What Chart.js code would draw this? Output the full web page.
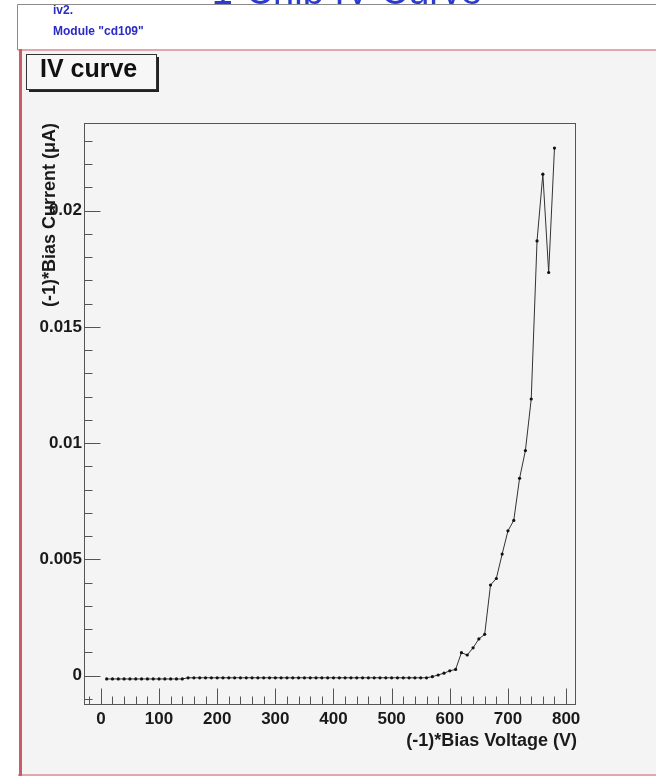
<!DOCTYPE html>
<html>
<head>
<meta charset="utf-8">
<script src="https://cdn.jsdelivr.net/npm/chart.js@4.4.1/dist/chart.umd.min.js"></script>
<style>
  html, body { margin: 0; padding: 0; background: #ffffff; overflow: hidden; }
  canvas { display: block; }
</style>
</head>
<body>
<canvas id="iv" width="656" height="776"></canvas>
<script>
// Texts
const pageTitle = '1-Chip IV Curve';
const infoLines = ['iv2.', 'Module "cd109"'];
const plotTitle = 'IV curve';
const xAxisTitle = '(-1)*Bias Voltage (V)';
const yAxisTitle = '(-1)*Bias Current (\u03bcA)';

// Measured bias scan: (-1)*voltage in V
const biasVoltage = [
  10, 20, 30, 40, 50, 60, 70, 80, 90, 100,
  110, 120, 130, 140, 150, 160, 170, 180, 190, 200,
  210, 220, 230, 240, 250, 260, 270, 280, 290, 300,
  310, 320, 330, 340, 350, 360, 370, 380, 390, 400,
  410, 420, 430, 440, 450, 460, 470, 480, 490, 500,
  510, 520, 530, 540, 550, 560, 570, 580, 590, 600,
  610, 620, 630, 640, 650, 660, 670, 680, 690, 700,
  710, 720, 730, 740, 750, 760, 770, 780
];

// (-1)*current in uA at each voltage step
const biasCurrent = [
  -0.00014, -0.00014, -0.00014, -0.00014, -0.00014, -0.00014, -0.00014, -0.00014, -0.00014, -0.00014,
  -0.00014, -0.00014, -0.00014, -0.00014, -0.00009, -0.00009, -0.00009, -0.00009, -0.00009, -0.00009,
  -0.00009, -0.00009, -0.00009, -0.00009, -0.00009, -0.00009, -0.00009, -0.00009, -0.00009, -0.00009,
  -0.00009, -0.00009, -0.00009, -0.00009, -0.00009, -0.00009, -0.00009, -0.00009, -0.00009, -0.00009,
  -0.00009, -0.00009, -0.00009, -0.00009, -0.00009, -0.00009, -0.00009, -0.00009, -0.00009, -0.00009,
  -0.00009, -0.00009, -0.00009, -0.00009, -0.00009, -0.00009, -0.00004, 0.00003, 0.00011, 0.00021,
  0.00027, 0.00099, 0.00089, 0.0012, 0.00158, 0.00178, 0.0039, 0.00418, 0.00523, 0.00623,
  0.00668, 0.00849, 0.00968, 0.0119, 0.0187, 0.02157, 0.01734, 0.02269
];

// Axis ranges and major ticks
const xRange = [-29, 817];
const yRange = [-0.00126, 0.02377];
const xTicks = [0, 100, 200, 300, 400, 500, 600, 700, 800];
const xTickLabels = ['0', '100', '200', '300', '400', '500', '600', '700', '800'];
const yTicks = [0, 0.005, 0.01, 0.015, 0.02];
const yTickLabels = ['0', '0.005', '0.01', '0.015', '0.02'];

const FONT = '"Liberation Sans", Arial, Helvetica, sans-serif';

// Canvas decorations: heading, info pad, plot pad and title box
const padBackground = {
  id: 'padBackground',
  beforeDraw(chart) {
    const ctx = chart.ctx;
    const W = chart.width, H = chart.height;
    ctx.save();
    ctx.fillStyle = '#ffffff';
    ctx.fillRect(0, 0, W, H);

    // page heading (mostly covered by the info pad)
    ctx.fillStyle = '#2b3bd0';
    ctx.font = '38px ' + FONT;
    ctx.textAlign = 'center';
    ctx.textBaseline = 'alphabetic';
    ctx.fillText(pageTitle, 347, 4);

    // info pad
    ctx.fillStyle = '#ffffff';
    ctx.fillRect(17, 5, W - 17, 45);
    ctx.strokeStyle = '#8a8a8a';
    ctx.lineWidth = 1;
    ctx.beginPath();
    ctx.moveTo(17.5, 50);
    ctx.lineTo(17.5, 4.5);
    ctx.lineTo(W, 4.5);
    ctx.stroke();

    ctx.fillStyle = '#2a2ac4';
    ctx.font = 'bold 12px ' + FONT;
    ctx.textAlign = 'left';
    ctx.textBaseline = 'middle';
    ctx.fillText(infoLines[0], 53, 11);
    ctx.fillText(infoLines[1], 53, 32);

    // plot pad
    ctx.fillStyle = '#f4f4f4';
    ctx.fillRect(20, 50, W - 20, 724);
    ctx.fillStyle = '#e4a6ad';
    ctx.fillRect(18, 49, W - 18, 2);
    ctx.fillRect(18, 774, W - 18, 2);
    ctx.fillStyle = '#c85c68';
    ctx.fillRect(19, 49, 3, H - 49);

    // title box with shadow
    ctx.fillStyle = '#222222';
    ctx.fillRect(29, 89, 130, 3);
    ctx.fillRect(156, 57, 3, 35);
    ctx.fillStyle = '#f7f7f7';
    ctx.fillRect(26, 54, 131, 36);
    ctx.strokeStyle = '#333333';
    ctx.lineWidth = 1;
    ctx.strokeRect(26.5, 54.5, 130, 35);
    ctx.fillStyle = '#111111';
    ctx.font = 'bold 25px ' + FONT;
    ctx.textAlign = 'left';
    ctx.textBaseline = 'alphabetic';
    ctx.fillText(plotTitle, 40, 77);
    ctx.restore();
  }
};

// Frame, inward tick marks and axis titles
const frameAndTicks = {
  id: 'frameAndTicks',
  afterDraw(chart) {
    const ctx = chart.ctx;
    const a = chart.chartArea;
    const xs = chart.scales.x, ys = chart.scales.y;
    const L = Math.round(a.left) + 0.5, R = Math.round(a.right) - 0.5;
    const T = Math.round(a.top) + 0.5, B = Math.round(a.bottom) - 0.5;
    ctx.save();
    ctx.strokeStyle = '#555555';
    ctx.lineWidth = 1;
    ctx.strokeRect(L, T, R - L, B - T);

    ctx.beginPath();
    // x ticks: majors every 100, minors every 20
    const xStep = (xTicks[1] - xTicks[0]) / 5;
    for (let k = Math.ceil(xs.min / xStep); k * xStep <= xs.max; k++) {
      const px = Math.round(xs.getPixelForValue(k * xStep)) + 0.5;
      const len = (k % 5 === 0) ? 16 : 8;
      ctx.moveTo(px, B);
      ctx.lineTo(px, B - len);
    }
    // y ticks: majors every 0.005, minors every 0.001
    const yStep = (yTicks[1] - yTicks[0]) / 5;
    for (let k = Math.ceil(ys.min / yStep); k * yStep <= ys.max; k++) {
      const py = Math.round(ys.getPixelForValue(k * yStep)) + 0.5;
      const len = (k % 5 === 0) ? 16 : 8;
      ctx.moveTo(L, py);
      ctx.lineTo(L + len, py);
    }
    ctx.stroke();

    ctx.fillStyle = '#1a1a1a';
    ctx.font = 'bold 18px ' + FONT;
    ctx.textBaseline = 'alphabetic';
    ctx.textAlign = 'right';
    ctx.fillText(xAxisTitle, a.right + 1, 746);

    ctx.translate(55, a.top);
    ctx.rotate(-Math.PI / 2);
    ctx.textAlign = 'right';
    ctx.fillText(yAxisTitle, 0, 0);
    ctx.restore();
  }
};

const points = biasVoltage.map((v, i) => ({ x: v, y: biasCurrent[i] }));

new Chart(document.getElementById('iv'), {
  type: 'scatter',
  data: {
    datasets: [{
      data: points,
      showLine: true,
      borderColor: '#333333',
      borderWidth: 1,
      tension: 0,
      pointRadius: 1.6,
      pointStyle: 'circle',
      pointBackgroundColor: '#111111',
      pointBorderWidth: 0,
      pointHoverRadius: 1.6
    }]
  },
  options: {
    responsive: false,
    animation: false,
    devicePixelRatio: 1,
    events: [],
    layout: { padding: { top: 123, right: 80, bottom: 0, left: 0 } },
    plugins: {
      legend: { display: false },
      title: { display: false },
      tooltip: { enabled: false }
    },
    scales: {
      x: {
        type: 'linear',
        position: 'bottom',
        min: xRange[0],
        max: xRange[1],
        grid: { display: false, drawTicks: false },
        border: { display: false },
        afterBuildTicks(scale) { scale.ticks = xTicks.map(v => ({ value: v })); },
        afterFit(scale) { scale.height = 71; },
        ticks: {
          padding: 4,
          maxRotation: 0,
          autoSkip: false,
          color: '#1a1a1a',
          font: { family: FONT, size: 17, weight: 'bold' },
          callback: (v) => { const i = xTicks.indexOf(v); return i >= 0 ? xTickLabels[i] : ''; }
        }
      },
      y: {
        type: 'linear',
        position: 'left',
        min: yRange[0],
        max: yRange[1],
        grid: { display: false, drawTicks: false },
        border: { display: false },
        afterBuildTicks(scale) { scale.ticks = yTicks.map(v => ({ value: v })); },
        afterFit(scale) { scale.width = 84; },
        ticks: {
          padding: 2,
          autoSkip: false,
          color: '#1a1a1a',
          font: { family: FONT, size: 17, weight: 'bold' },
          callback: (v) => { const i = yTicks.indexOf(v); return i >= 0 ? yTickLabels[i] : ''; }
        }
      }
    }
  },
  plugins: [padBackground, frameAndTicks]
});
</script>
</body>
</html>
